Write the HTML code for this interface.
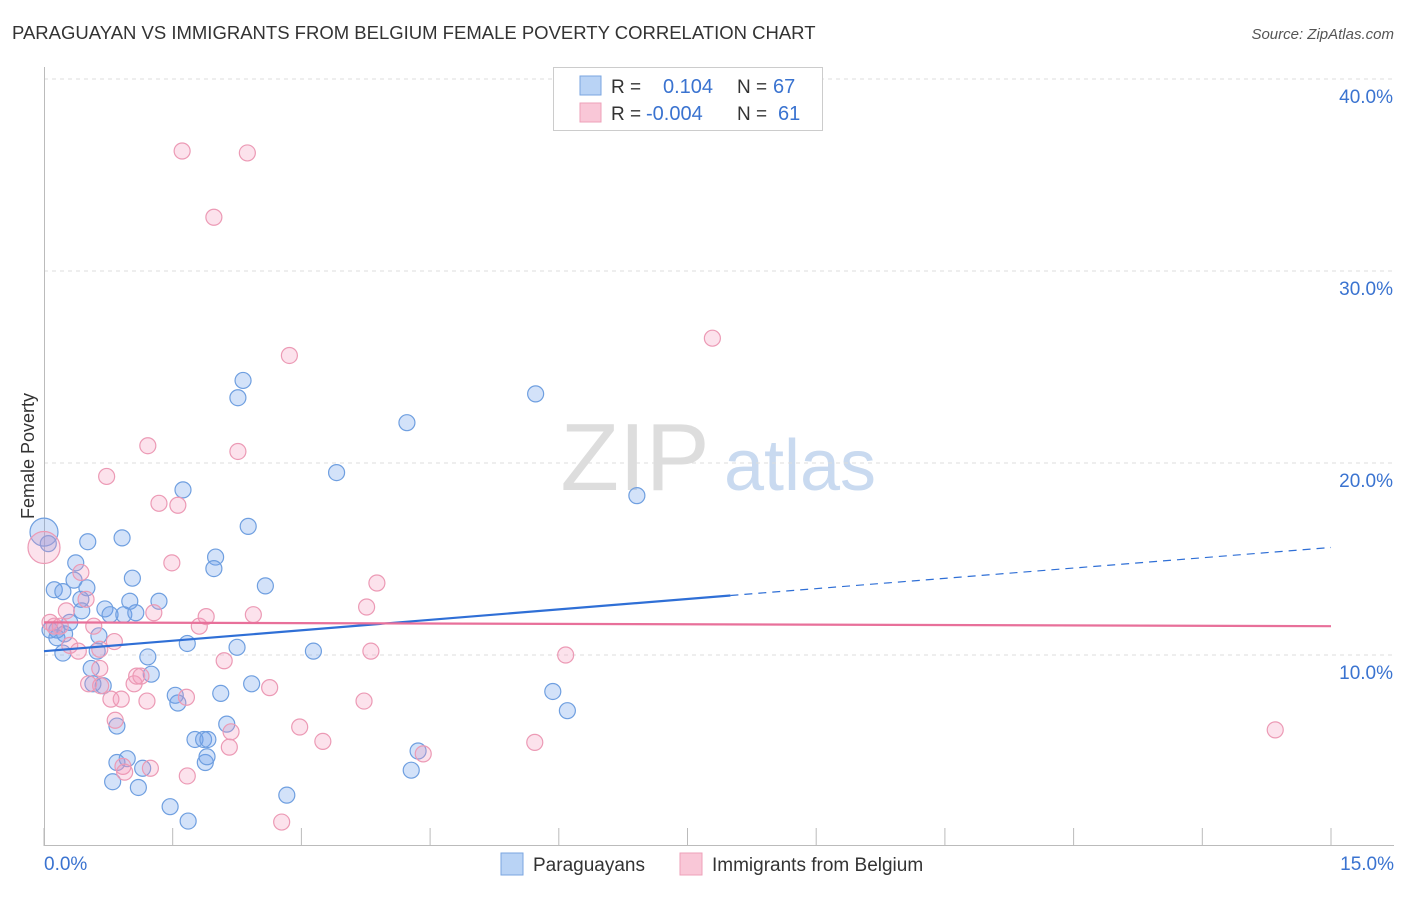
<!DOCTYPE html>
<html><head><meta charset="utf-8"><style>
body{margin:0;background:#fff;font-family:"Liberation Sans",sans-serif;}
svg text{font-family:"Liberation Sans",sans-serif;}
</style></head><body>
<svg id="chart" width="1406" height="892" xmlns="http://www.w3.org/2000/svg">
<text x="12" y="39" font-size="18.5" fill="#333">PARAGUAYAN VS IMMIGRANTS FROM BELGIUM FEMALE POVERTY CORRELATION CHART</text>
<text x="1394" y="39" font-size="15" fill="#555" text-anchor="end" font-style="italic">Source: ZipAtlas.com</text>
<text transform="translate(34,456) rotate(-90)" font-size="18" fill="#333" text-anchor="middle">Female Poverty</text>
<g>
<text x="635" y="490" font-size="96" fill="#ddd" text-anchor="middle" font-family="Liberation Serif">ZIP</text>
<text x="800" y="490" font-size="72" fill="#c9daf0" text-anchor="middle">atlas</text>
</g>
<g id="grid"></g><g id="axes"></g><g id="pts"></g><g id="lines"></g>
<g>
<rect x="553.5" y="67.5" width="269" height="63" fill="#fff" stroke="#ccc"/>
<rect x="580" y="76" width="21" height="19" fill="#b9d3f5" stroke="#7aa6e0"/>
<rect x="580" y="103" width="21" height="19" fill="#f9c7d7" stroke="#eea0b9"/>
<text x="611" y="93" font-size="19" fill="#333">R =</text>
<text x="663" y="93" font-size="20" fill="#3a73d0">0.104</text>
<text x="737" y="93" font-size="19" fill="#333">N =</text>
<text x="773" y="93" font-size="20" fill="#3a73d0">67</text>
<text x="611" y="120" font-size="19" fill="#333">R =</text>
<text x="646" y="120" font-size="20" fill="#3a73d0">-0.004</text>
<text x="737" y="120" font-size="19" fill="#333">N =</text>
<text x="778" y="120" font-size="20" fill="#3a73d0">61</text>
</g>
<g>
<rect x="501" y="853" width="22" height="22" fill="#b9d3f5" stroke="#7aa6e0"/>
<text x="533" y="871" font-size="19" fill="#333">Paraguayans</text>
<rect x="680" y="853" width="22" height="22" fill="#f9c7d7" stroke="#eea0b9"/>
<text x="712" y="871" font-size="19" fill="#333">Immigrants from Belgium</text>
</g>
</svg>
<script>
const yTicks=[10,20,30,40];
const yTickLabels=["10.0%","20.0%","30.0%","40.0%"];
const xTickLabels=["0.0%","15.0%"];
const blueX=[0,.05,.12,.22,.37,.51,.91,.35,.50,.43,.44,.71,.77,.93,1.07,1.00,1.34,1.03,.15,.24,.15,.64,.62,.22,.55,.57,.69,1.21,1.25,.85,.85,.97,.80,1.10,1.15,1.47,1.68,1.53,1.56,1.67,1.76,1.86,1.91,1.88,1.90,2.06,2.13,2.25,2.42,2.32,2.26,1.62,2.38,2.00,1.98,2.58,2.83,3.14,3.41,4.23,5.73,6.91,5.93,6.10,4.36,4.28,.07,.30];
const blueY=[16.4,15.8,13.4,13.3,14.8,15.9,16.1,13.9,13.5,12.9,12.3,12.4,12.1,12.1,12.2,12.8,12.8,14.0,11.3,11.1,10.9,11.0,10.2,10.1,9.3,8.5,8.4,9.9,9.0,6.3,4.4,4.6,3.4,3.1,4.1,2.1,1.35,7.9,7.5,10.6,5.6,5.6,5.6,4.4,4.7,8.0,6.4,10.4,8.5,24.3,23.4,18.6,16.7,15.1,14.5,13.6,2.7,10.2,19.5,22.1,23.6,18.3,8.1,7.1,5.0,4.0,11.3,11.7];
const pinkX=[0,.07,.12,.19,.26,.30,.40,.43,.49,.58,.65,.65,.66,.52,.73,.82,.83,.78,.90,.92,.94,1.05,1.08,1.13,1.24,1.20,1.28,1.21,1.34,1.49,1.56,1.61,1.66,1.67,1.81,1.89,1.98,2.10,2.16,2.18,2.37,2.26,2.44,2.63,2.86,2.98,3.25,2.77,3.73,3.76,3.81,3.88,4.42,5.72,6.08,7.79,14.35];
const pinkY=[15.6,11.7,11.5,11.5,12.3,10.5,10.2,14.3,12.9,11.5,10.3,9.3,8.4,8.5,19.3,10.7,6.6,7.7,7.7,4.2,3.9,8.5,8.9,8.9,4.1,7.6,12.2,20.9,17.9,14.8,17.8,36.25,7.8,3.7,11.5,12.0,32.8,9.7,5.2,6.0,36.15,20.6,12.1,8.3,25.6,6.25,5.5,1.3,7.6,12.5,10.2,13.75,4.85,5.45,10.0,26.5,6.1];
const blueTrend=[10.2,13.1,15.6];
const pinkTrend=[11.7,11.5];
const NS="http://www.w3.org/2000/svg";
const sx=v=>44+v*85.8, sy=v=>847-v*19.2;
function mk(tag,attrs,parent){const e=document.createElementNS(NS,tag);for(const k in attrs)e.setAttribute(k,attrs[k]);parent.appendChild(e);return e;}
const grid=document.getElementById('grid'),axes=document.getElementById('axes'),pts=document.getElementById('pts'),lines=document.getElementById('lines');
yTicks.forEach((t,i)=>{
 const l=mk('line',{x1:44,x2:1394,y1:sy(t),y2:sy(t),stroke:'#ddd','stroke-dasharray':'4,4'},grid);
 
 
 const tx=mk('text',{x:1393,y:sy(t)+24,'font-size':19,fill:'#3a73d0','text-anchor':'end'},axes);
 tx.textContent=yTickLabels[i];
 
 
});
const ya=mk('line',{x1:44.5,x2:44.5,y1:67,y2:846,stroke:'#bbb'},axes);


const xa=mk('line',{x1:44,x2:1394,y1:845.5,y2:845.5,stroke:'#bbb'},axes);


for(let i=0;i<=10;i++){const t=mk('line',{x1:sx(i*1.5),x2:sx(i*1.5),y1:828,y2:846,stroke:'#bbb'},axes);
 
 }
[[0,44,'start'],[15,1394,'end']].forEach((d,i)=>{const t=mk('text',{x:d[1],y:870,'font-size':19,fill:'#3a73d0','text-anchor':d[2]},axes);t.textContent=xTickLabels[i];
 
 });
function drawPts(X,Y,fill,stroke,name,bigR){X.forEach((x,i)=>{const c=mk('circle',{cx:sx(x),cy:sy(Y[i]),r:i===0?bigR:8,fill:fill,stroke:stroke,'stroke-width':1.2},pts);
 
 });}
drawPts(blueX,blueY,'rgba(110,160,235,0.3)','#6f9fe0','paraguayan-point',14);
drawPts(pinkX,pinkY,'rgba(245,150,185,0.28)','#ec9ab5','belgium-point',16);
const b1=mk('line',{x1:sx(0),y1:sy(blueTrend[0]),x2:sx(8),y2:sy(blueTrend[1]),stroke:'#2f6fd6','stroke-width':2.2},lines);


const b2=mk('line',{x1:sx(8),y1:sy(blueTrend[1]),x2:sx(15),y2:sy(blueTrend[2]),stroke:'#2f6fd6','stroke-width':1.2,'stroke-dasharray':'8,6'},lines);


const p1=mk('line',{x1:sx(0),y1:sy(pinkTrend[0]),x2:sx(15),y2:sy(pinkTrend[1]),stroke:'#e8709a','stroke-width':2.2},lines);


</script>
</body></html>
